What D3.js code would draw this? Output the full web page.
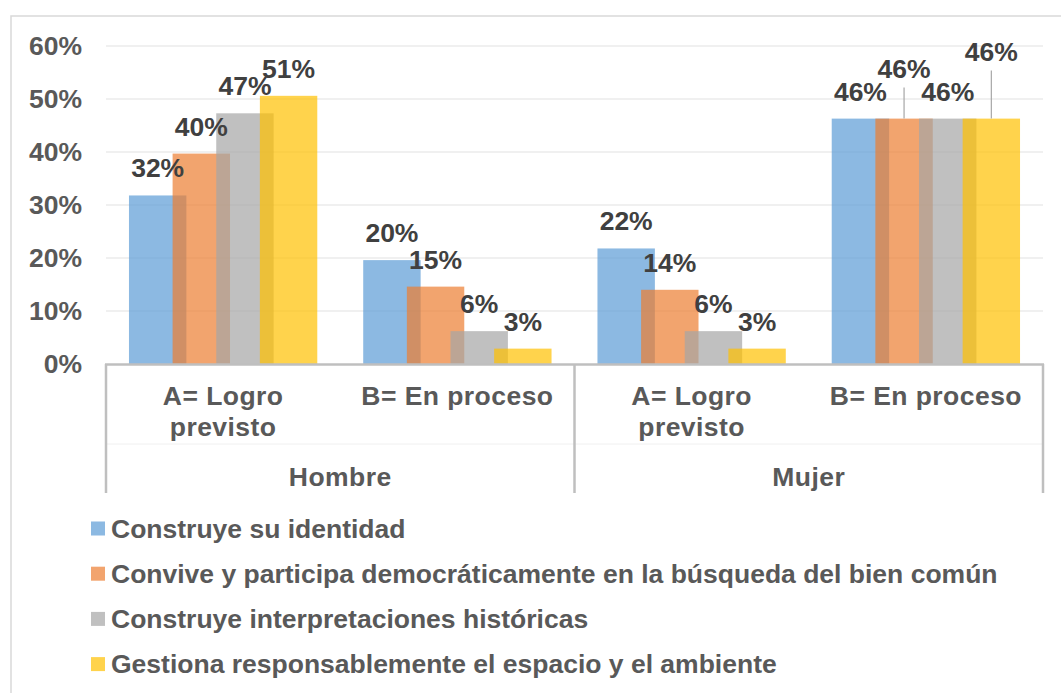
<!DOCTYPE html>
<html><head><meta charset="utf-8">
<script src="https://cdn.jsdelivr.net/npm/d3@7"></script>
<style>
body{margin:0;background:#fff;}
svg{display:block;font-family:"Liberation Sans",Arial,sans-serif;font-weight:bold;}
</style></head><body>
<svg id="c" width="1061" height="693"></svg>
<script>
// ---- data ----
const categories = ["Hombre|A","Hombre|B","Mujer|A","Mujer|B"];
const categoryLabels = [["A= Logro","previsto"],["B= En proceso"],["A= Logro","previsto"],["B= En proceso"]];
const groups = ["Hombre","Mujer"];
const seriesNames = [
  "Construye su identidad",
  "Convive y participa democráticamente en la búsqueda del bien común",
  "Construye interpretaciones históricas",
  "Gestiona responsablemente el espacio y el ambiente"
];
const construyeIdentidad   = [0.318, 0.196, 0.218, 0.463];
const conviveParticipa     = [0.397, 0.146, 0.140, 0.463];
const interpretaciones     = [0.473, 0.062, 0.062, 0.463];
const gestionaEspacio      = [0.506, 0.029, 0.029, 0.463];
const yTicks = [0, 0.1, 0.2, 0.3, 0.4, 0.5, 0.6];

// ---- styles / layout ----
const colors = ["#5B9BD5","#ED7D31","#A5A5A5","#FFC000"];
const series = [construyeIdentidad, conviveParticipa, interpretaciones, gestionaEspacio];
const plot = {left:106, right:1043, top:46, bottom:364};
const FS = 26.5;

const svg = d3.select("#c");

// outer border
svg.append("rect").attr("x",11).attr("y",16).attr("width",1200).attr("height",1000)
  .attr("fill","none").attr("stroke","#d9d9d9").attr("stroke-width",1.5);

const y = d3.scaleLinear().domain([0,0.6]).range([plot.bottom, plot.top]);
const x0 = d3.scaleBand().domain(categories).range([plot.left, plot.right]);
const gap = 0.8, overlap = 0.24;
const bw = x0.bandwidth() / (3*(1-overlap) + 1 + gap);
const step = bw*(1-overlap);
const clusterW = 3*step + bw;
const x1 = d3.scaleLinear().domain([0,3]).range([0, 3*step]);
const barX = (ci, si) => x0(categories[ci]) + (x0.bandwidth()-clusterW)/2 + x1(si);

// gridlines
svg.append("g").selectAll("line").data(yTicks.filter(d=>d>0)).join("line")
  .attr("x1",plot.left).attr("x2",plot.right)
  .attr("y1",d=>y(d)).attr("y2",d=>y(d))
  .attr("stroke","#ebebeb").attr("stroke-width",1.3);

// y axis
const yAxis = svg.append("g").attr("transform",`translate(${plot.left},0)`)
  .call(d3.axisLeft(y).tickValues(yTicks).tickFormat(d3.format(".0%")).tickSize(0).tickPadding(24));
yAxis.select(".domain").remove();
yAxis.selectAll("text").attr("font-size",FS).attr("fill","#595959")
  .attr("font-family","Liberation Sans, Arial, sans-serif").attr("font-weight","bold");

// bars
series.forEach((vals, si) => {
  svg.append("g").selectAll("rect").data(vals).join("rect")
    .attr("x",(d,ci)=>barX(ci,si)).attr("width",bw)
    .attr("y",d=>y(d)).attr("height",d=>y(0)-y(d))
    .attr("fill",colors[si]).attr("fill-opacity",0.7);
});

// category axis (multi-level)
const axisG = svg.append("g");
axisG.append("line").attr("x1",plot.left-1).attr("x2",plot.right+1)
  .attr("y1",y(0)+0.5).attr("y2",y(0)+0.5).attr("stroke","#bfbfbf").attr("stroke-width",2.5);
axisG.append("line").attr("x1",plot.left).attr("x2",plot.right)
  .attr("y1",444).attr("y2",444).attr("stroke","#f0f0f0").attr("stroke-width",1);
const groupEdges = [plot.left, x0(categories[2]), plot.right];
axisG.selectAll(".sep").data(groupEdges).join("line")
  .attr("x1",d=>d).attr("x2",d=>d).attr("y1",y(0)).attr("y2",493)
  .attr("stroke","#bfbfbf").attr("stroke-width",2.5);

const xAxis = svg.append("g").attr("transform",`translate(0,${y(0)})`)
  .call(d3.axisBottom(x0).tickSize(0).tickFormat(""));
xAxis.select(".domain").remove();
xAxis.selectAll(".tick").each(function(d,i){
  const t = d3.select(this).append("text").attr("fill","#595959").attr("font-size",FS)
    .attr("text-anchor","middle").attr("letter-spacing",0.45);
  categoryLabels[i].forEach((ln,k)=>{
    t.append("tspan").attr("x",0).attr("y",41 + k*31).text(ln);
  });
});
svg.append("g").selectAll("text").data(groups).join("text")
  .attr("x",(d,i)=>(groupEdges[i]+groupEdges[i+1])/2).attr("y",486)
  .attr("text-anchor","middle").attr("font-size",FS).attr("fill","#595959")
  .attr("letter-spacing",0.45).text(d=>d);

// data labels (some manually lifted with leader lines)
const labelLift = {"3-1":23, "3-3":40};
series.forEach((vals, si) => {
  vals.forEach((v, ci) => {
    const cx = barX(ci,si) + bw/2;
    const lift = labelLift[ci+"-"+si] || 0;
    const by = y(v) - 18 - lift;
    if (lift) {
      svg.append("line").attr("x1",cx).attr("x2",cx).attr("y1",by+10).attr("y2",y(v))
        .attr("stroke","#a6a6a6").attr("stroke-width",1.2);
    }
    svg.append("text").attr("x",cx).attr("y",by).attr("text-anchor","middle")
      .attr("font-size",FS).attr("fill","#404040").text(d3.format(".0%")(v));
  });
});

// legend
const lg = svg.append("g").selectAll("g").data(seriesNames).join("g")
  .attr("transform",(d,i)=>`translate(91,${537.5 + i*45.2})`);
lg.append("rect").attr("x",0).attr("y",-16).attr("width",14).attr("height",14)
  .attr("fill",(d,i)=>colors[i]).attr("fill-opacity",0.7);
lg.append("text").attr("x",20).attr("y",0).attr("font-size",FS).attr("fill","#595959")
  .text(d=>d);
</script></body></html>
